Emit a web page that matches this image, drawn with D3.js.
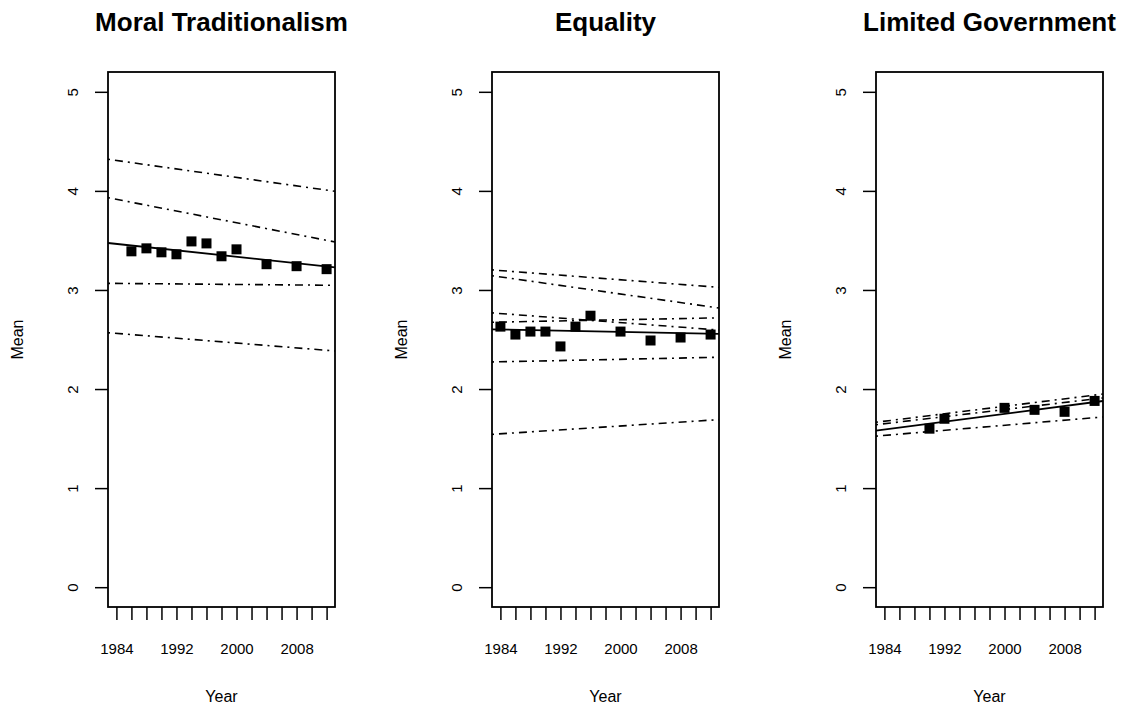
<!DOCTYPE html>
<html>
<head>
<meta charset="utf-8">
<script src="https://cdn.jsdelivr.net/npm/d3@7"></script>
<style>
body { margin: 0; background: #fff; }
text { font-family: "Liberation Sans", Arial, sans-serif; }
</style>
</head>
<body>
<div id="chart-area"></div>
<script>
// DATA
var titles = ["Moral Traditionalism", "Equality", "Limited Government"];

var moralYears = [1986, 1988, 1990, 1992, 1994, 1996, 1998, 2000, 2004, 2008, 2012];
var moralMeans = [3.39, 3.42, 3.38, 3.36, 3.49, 3.47, 3.34, 3.41, 3.26, 3.24, 3.21];

var equalityYears = [1984, 1986, 1988, 1990, 1992, 1994, 1996, 2000, 2004, 2008, 2012];
var equalityMeans = [2.63, 2.55, 2.58, 2.58, 2.43, 2.63, 2.74, 2.58, 2.49, 2.52, 2.55];

var limGovYears = [1990, 1992, 2000, 2004, 2008, 2012];
var limGovMeans = [1.60, 1.70, 1.81, 1.79, 1.77, 1.88];

// fitted lines: value at 1984 and at 2012
var moralFit = [3.465, 3.238];
var equalityFit = [2.601, 2.558];
var limGovFit = [1.591, 1.868];

// dot-dash lines: value at 1984 and at 2012
var moralOther = [[4.307, 4.008], [3.915, 3.501], [3.066, 3.048], [2.562, 2.391]];
var equalityOther = [[3.196, 3.033], [3.132, 2.830], [2.762, 2.602], [2.676, 2.717], [2.275, 2.319], [1.548, 1.686]];
var limGovOther = [[1.675, 1.939], [1.650, 1.900], [1.532, 1.711]];

var xTicks = [1984, 1986, 1988, 1990, 1992, 1994, 1996, 1998, 2000, 2002, 2004, 2006, 2008, 2010, 2012];
var xLabels = [1984, 1992, 2000, 2008];
var yTicks = [0, 1, 2, 3, 4, 5];

var panels = [
	{ years: moralYears, means: moralMeans, fit: moralFit, other: moralOther },
	{ years: equalityYears, means: equalityMeans, fit: equalityFit, other: equalityOther },
	{ years: limGovYears, means: limGovMeans, fit: limGovFit, other: limGovOther }
];

var svg = d3.select("#chart-area")
	.append("svg")
	.attr("width", 1125)
	.attr("height", 708);

var panelLeft = [108, 492, 876];
var plotWidth = 227, plotTop = 72, plotBottom = 607;
var plotHeight = plotBottom - plotTop;

// SCALES (R style 4% padding)
var x = d3.scaleLinear()
	.domain([1982.88, 2013.12])
	.range([0, plotWidth]);

var y = d3.scaleLinear()
	.domain([-0.2, 5.2])
	.range([plotHeight, 0]);

panels.forEach(function (p, i) {
	var g = svg.append("g")
		.attr("transform", "translate(" + panelLeft[i] + "," + plotTop + ")");

	// TITLE
	g.append("text")
		.attr("x", plotWidth / 2)
		.attr("y", 31 - plotTop)
		.attr("text-anchor", "middle")
		.attr("font-size", "26px")
		.attr("font-weight", "bold")
		.text(titles[i]);

	// LABELS
	g.append("text")
		.attr("x", plotWidth / 2)
		.attr("y", 702 - plotTop)
		.attr("text-anchor", "middle")
		.attr("font-size", "16px")
		.text("Year");

	g.append("text")
		.attr("transform", "translate(-85," + (plotHeight / 2) + ") rotate(-90)")
		.attr("text-anchor", "middle")
		.attr("font-size", "16px")
		.text("Mean");

	// X AXIS
	var xAxisCall = d3.axisBottom(x)
		.tickValues(xTicks)
		.tickSize(13)
		.tickSizeOuter(0)
		.tickPadding(23)
		.tickFormat(function (d) { return xLabels.indexOf(d) >= 0 ? d : ""; });
	var xa = g.append("g")
		.attr("transform", "translate(0," + plotHeight + ")")
		.call(xAxisCall);
	xa.select(".domain").remove();
	xa.selectAll("line").attr("stroke", "#000").attr("stroke-width", 1.5);
	xa.selectAll("text")
		.attr("font-size", "15px")
		.attr("font-family", "Liberation Sans, Arial, sans-serif")
		.attr("fill", "#000");

	// Y AXIS
	var yAxisCall = d3.axisLeft(y)
		.tickValues(yTicks)
		.tickSize(13)
		.tickSizeOuter(0)
		.tickFormat(d3.format("d"));
	var ya = g.append("g").call(yAxisCall);
	ya.select(".domain").remove();
	ya.selectAll("line").attr("stroke", "#000").attr("stroke-width", 1.5);
	ya.selectAll("text")
		.attr("x", null)
		.attr("dy", null)
		.attr("transform", "translate(-30,0) rotate(-90)")
		.attr("text-anchor", "middle")
		.attr("font-size", "15px")
		.attr("font-family", "Liberation Sans, Arial, sans-serif")
		.attr("fill", "#000");

	// LINES (abline style, across the whole plot)
	var x0 = x.domain()[0], x1 = x.domain()[1];
	function ext(v) {
		var slope = (v[1] - v[0]) / (2012 - 1984);
		return [v[0] + slope * (x0 - 1984), v[0] + slope * (x1 - 1984)];
	}

	g.selectAll(".other")
		.data(p.other)
		.enter()
		.append("line")
		.attr("class", "other")
		.attr("x1", x(x0))
		.attr("x2", x(x1))
		.attr("y1", function (d) { return y(ext(d)[0]); })
		.attr("y2", function (d) { return y(ext(d)[1]); })
		.attr("stroke", "#000")
		.attr("stroke-width", 1.6)
		.attr("stroke-dasharray", "2,5,8,5");

	var f = ext(p.fit);
	g.append("line")
		.attr("x1", x(x0))
		.attr("x2", x(x1))
		.attr("y1", y(f[0]))
		.attr("y2", y(f[1]))
		.attr("stroke", "#000")
		.attr("stroke-width", 1.8);

	// POINTS
	g.selectAll("rect.pt")
		.data(p.years)
		.enter()
		.append("rect")
		.attr("class", "pt")
		.attr("x", function (d) { return x(d) - 5; })
		.attr("y", function (d, j) { return y(p.means[j]) - 5; })
		.attr("width", 10)
		.attr("height", 10)
		.attr("fill", "#000");

	// BOX
	g.append("rect")
		.attr("width", plotWidth)
		.attr("height", plotHeight)
		.attr("fill", "none")
		.attr("stroke", "#000")
		.attr("stroke-width", 1.8);
});
</script>
</body>
</html>
